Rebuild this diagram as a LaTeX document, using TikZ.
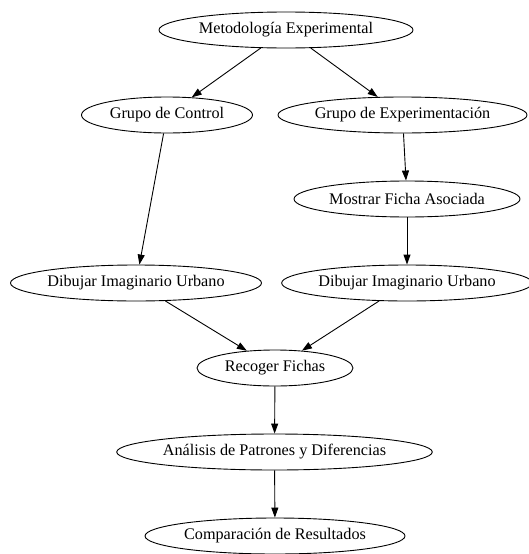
\documentclass[tikz,border=0pt]{standalone}
\usepackage{fontspec}
\setmainfont{Liberation Serif}
\usetikzlibrary{shapes.geometric,arrows.meta}
\begin{document}
\begin{tikzpicture}[x=1pt,y=-1pt,
  nd/.style={draw,ellipse,line width=0.9pt,inner sep=0pt,minimum height=36pt,
    font=\fontsize{16.2pt}{19pt}\selectfont},
  ar/.style={draw,line width=0.9pt,-{Triangle[length=10pt,width=7pt]}}]
\useasboundingbox (0,0) rectangle (529,554);
\node[nd,minimum width=254pt] (m) at (286,30) {Metodología Experimental};
\node[nd,minimum width=171pt] (gc) at (167,115) {Grupo de Control};
\node[nd,minimum width=249pt] (ge) at (402.5,115) {Grupo de Experimentación};
\node[nd,minimum width=226pt] (mf) at (407,199) {Mostrar Ficha Asociada};
\node[nd,minimum width=251pt] (dl) at (136,283) {Dibujar Imaginario Urbano};
\node[nd,minimum width=248pt] (dr) at (407,283) {Dibujar Imaginario Urbano};
\node[nd,minimum width=156pt] (rf) at (275,368) {Recoger Fichas};
\node[nd,minimum width=313pt] (ap) at (274.5,452) {Análisis de Patrones y Diferencias};
\node[nd,minimum width=260pt] (cr) at (275,536) {Comparación de Resultados};
\draw[ar] (m) -- (gc);
\draw[ar] (m) -- (ge);
\draw[ar] (gc) -- (dl);
\draw[ar] (ge) -- (mf);
\draw[ar] (mf) -- (dr);
\draw[ar] (dl) -- (rf);
\draw[ar] (dr) -- (rf);
\draw[ar] (rf) -- (ap);
\draw[ar] (ap) -- (cr);
\end{tikzpicture}
\end{document}
